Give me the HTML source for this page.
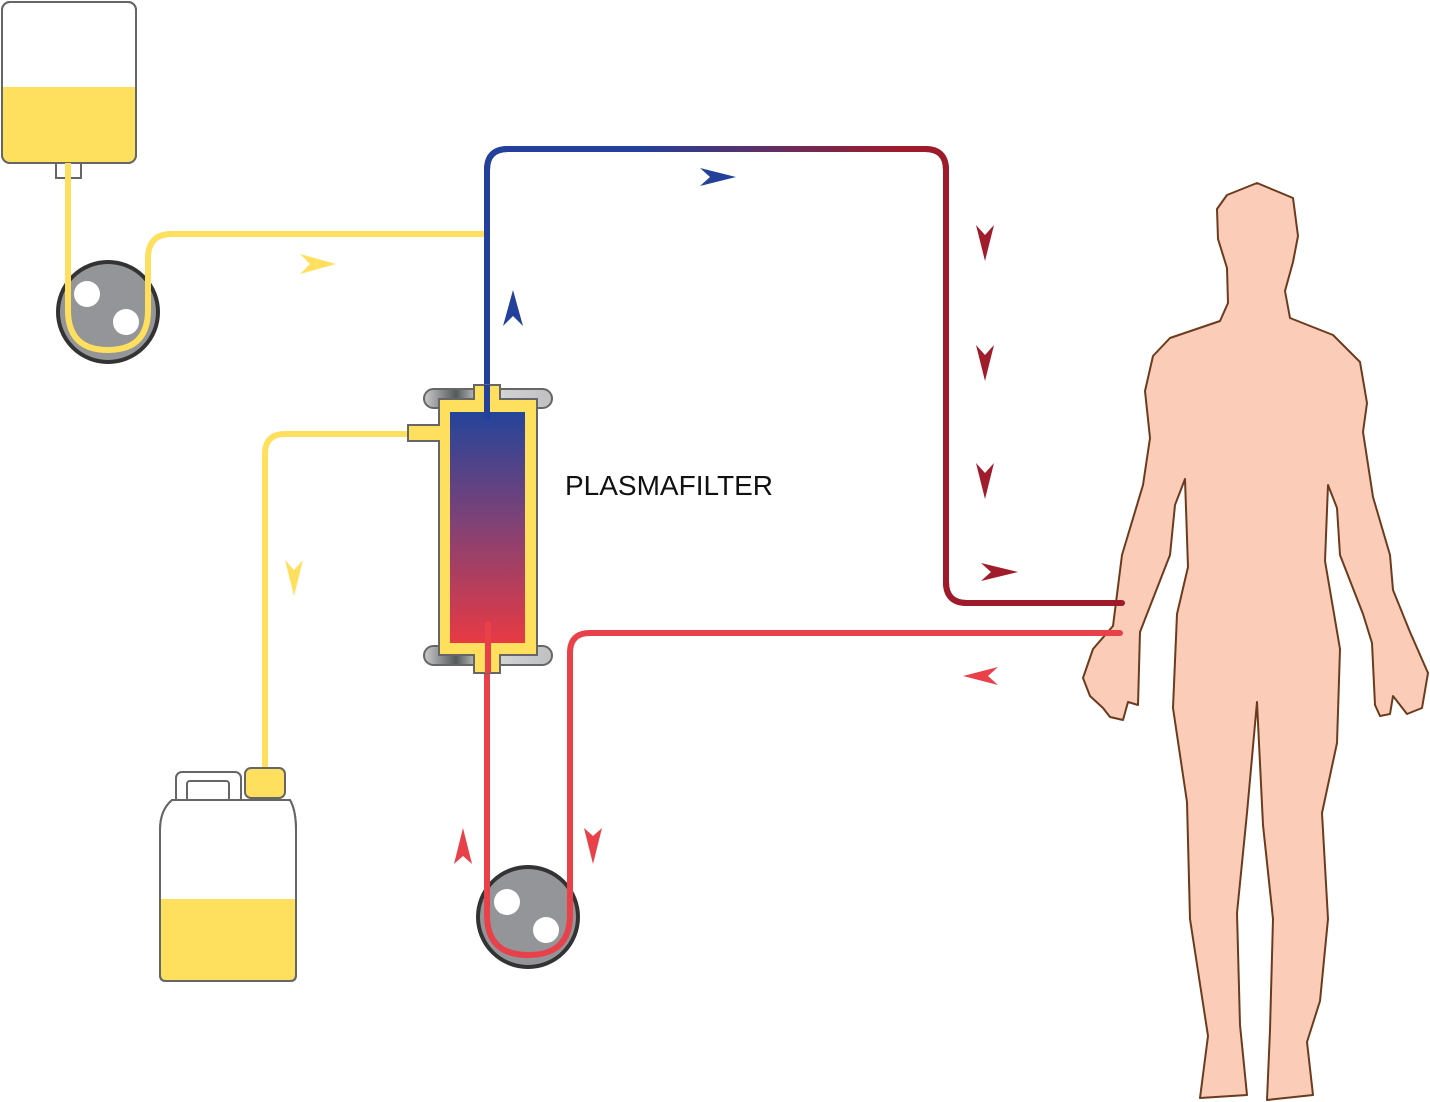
<!DOCTYPE html>
<html><head><meta charset="utf-8"><style>html,body{margin:0;padding:0;background:#fff}svg{display:block}</style></head>
<body>
<svg width="1430" height="1102" viewBox="0 0 1430 1102" xmlns="http://www.w3.org/2000/svg">
<defs>
<linearGradient id="fg" x1="0" y1="0" x2="0" y2="1">
<stop offset="0" stop-color="#24449a"/><stop offset="0.45" stop-color="#7a4278"/><stop offset="1" stop-color="#e83a44"/>
</linearGradient>
<linearGradient id="tg" gradientUnits="userSpaceOnUse" x1="640" y1="0" x2="900" y2="0">
<stop offset="0" stop-color="#23409a"/><stop offset="1" stop-color="#9e1b2b"/>
</linearGradient>
<linearGradient id="cap" x1="0" y1="0" x2="1" y2="0">
<stop offset="0" stop-color="#c9cacc"/><stop offset="0.25" stop-color="#555a5a"/><stop offset="0.45" stop-color="#d9dadb"/><stop offset="1" stop-color="#bfc0c2"/>
</linearGradient>
</defs>

<rect x="56" y="160" width="25" height="18" fill="#fff" stroke="#666" stroke-width="2"/>
<rect x="2" y="2" width="134" height="161" rx="8" fill="#fff" stroke="#666" stroke-width="2"/>
<path d="M3 87 H135 V155 Q135 162 128 162 H10 Q3 162 3 155 Z" fill="#ffdf5e"/>
<rect x="2" y="2" width="134" height="161" rx="8" fill="none" stroke="#666" stroke-width="2"/>

<circle cx="108" cy="312" r="50" fill="#939598" stroke="#333" stroke-width="4"/>
<circle cx="87" cy="294" r="13" fill="#fff"/><circle cx="126" cy="322" r="13" fill="#fff"/>
<path d="M68 163 V310 Q68 350 108 350 Q148 350 148 310 V258 Q148 234 172 234 H487" fill="none" stroke="#ffdf5e" stroke-width="6"/>
<path d="M300 254 L336 264 L300 274 L310 264 Z" fill="#ffdf5e"/>

<path d="M410 434 H285 Q265 434 265 454 V772" fill="none" stroke="#ffdf5e" stroke-width="6"/>
<path d="M285 560 L294 596 L303 560 L294 570 Z" fill="#ffdf5e"/>

<rect x="176" y="772" width="65" height="32" rx="6" fill="#fff" stroke="#666" stroke-width="2"/>
<rect x="187" y="781" width="42" height="20" rx="3" fill="#fff" stroke="#666" stroke-width="2"/>
<path d="M172 800 H290 Q296 810 296 830 V975 Q296 981 290 981 H166 Q160 981 160 975 V830 Q160 810 172 800 Z" fill="#fff" stroke="#666" stroke-width="2"/>
<path d="M161 899 H295 V975 Q295 980 290 980 H166 Q161 980 161 975 Z" fill="#ffdf5e"/>
<path d="M172 800 H290 Q296 810 296 830 V975 Q296 981 290 981 H166 Q160 981 160 975 V830 Q160 810 172 800 Z" fill="none" stroke="#666" stroke-width="2"/>
<rect x="245" y="768" width="40" height="30" rx="6" fill="#ffdf5e" stroke="#666" stroke-width="2"/>

<path d="M487 395 V170 Q487 149 508 149 H925 Q946 149 946 170 V582 Q946 603 967 603 H1122" fill="none" stroke="url(#tg)" stroke-width="6"/>
<path d="M487 395 V170 Q487 149 508 149 H640" fill="none" stroke="#23409a" stroke-width="6"/>
<path d="M900 149 H925 Q946 149 946 170 V582 Q946 603 967 603 H1122" fill="none" stroke="#9e1b2b" stroke-width="6"/>
<path d="M513 290 L523 326 L513 316 L503 326 Z" fill="#23409a"/>
<path d="M700 168 L736 177 L700 186 L710 177 Z" fill="#23409a"/>
<path d="M976 225 L985 261 L994 225 L985 235 Z" fill="#a01c2a"/>
<path d="M976 345 L985 381 L994 345 L985 355 Z" fill="#a01c2a"/>
<path d="M976 463 L985 499 L994 463 L985 473 Z" fill="#a01c2a"/>
<path d="M981 563 L1018 572 L981 581 L991 572 Z" fill="#a01c2a"/>

<path d="M487 620 V915 Q487 955 528 955 Q570 955 570 915 V653 Q570 633 590 633 H1122" fill="none" stroke="#e8414a" stroke-width="6"/>
<circle cx="528" cy="917" r="50" fill="#939598" stroke="#333" stroke-width="4"/>
<circle cx="507" cy="902" r="13" fill="#fff"/><circle cx="546" cy="930" r="13" fill="#fff"/>
<path d="M487 840 V915 Q487 955 528 955 Q570 955 570 915 V840" fill="none" stroke="#e8414a" stroke-width="6"/>
<path d="M998 667 L963 676 L998 685 L988 676 Z" fill="#e8414a"/>
<path d="M463 828 L472 864 L463 856 L454 864 Z" fill="#e8414a"/>
<path d="M584 828 L593 864 L602 828 L593 836 Z" fill="#e8414a"/>

<rect x="424" y="389" width="128" height="19" rx="9.5" fill="url(#cap)" stroke="#666" stroke-width="2"/>
<rect x="424" y="646" width="128" height="19" rx="9.5" fill="url(#cap)" stroke="#666" stroke-width="2"/>
<path d="M474 385 H500 V399 H537 V655 H500 V673 H474 V655 H439 V441 H408 V425 H439 V399 H474 Z" fill="#ffdf5e" stroke="#666" stroke-width="2"/>
<rect x="450" y="412" width="75" height="231" fill="url(#fg)"/>
<path d="M487 385 V420" stroke="#23409a" stroke-width="6"/>
<path d="M488 622 V673" stroke="#e8414a" stroke-width="6"/>

<text x="565" y="495" font-family="Liberation Sans, sans-serif" font-size="28" fill="#111">PLASMAFILTER</text>

<path d="M1257 183 L1293 198 L1298 236 L1293 262 L1285 291 L1290 318 L1333 335 L1360 362 L1367 403 L1363 432 L1373 497 L1390 555 L1393 590 L1410 632 L1428 673 L1422 708 L1407 714 L1393 696 L1390 714 L1380 716 L1375 705 L1372 643 L1363 614 L1340 555 L1337 508 L1328 485 L1325 561 L1340 649 L1337 743 L1322 813 L1328 919 L1320 1001 L1307 1042 L1313 1095 L1267 1100 L1270 1030 L1273 919 L1263 825 L1257 702 L1247 813 L1237 913 L1240 1025 L1247 1095 L1200 1098 L1208 1036 L1190 919 L1187 802 L1173 708 L1177 614 L1188 567 L1185 479 L1175 505 L1170 555 L1140 632 L1138 705 L1128 702 L1123 720 L1110 717 L1103 708 L1090 696 L1083 678 L1093 649 L1113 626 L1122 555 L1143 485 L1150 438 L1145 391 L1153 356 L1170 338 L1220 321 L1228 303 L1227 268 L1218 239 L1217 209 L1227 195 Z" fill="#fbcdb8" stroke="#6b3b1e" stroke-width="2" stroke-linejoin="round"/>
<path d="M1100 603 H1122" stroke="#9e1b2b" stroke-width="6" stroke-linecap="round"/>
<path d="M1100 633 H1120" stroke="#e8414a" stroke-width="6" stroke-linecap="round"/>
</svg>
</body></html>
